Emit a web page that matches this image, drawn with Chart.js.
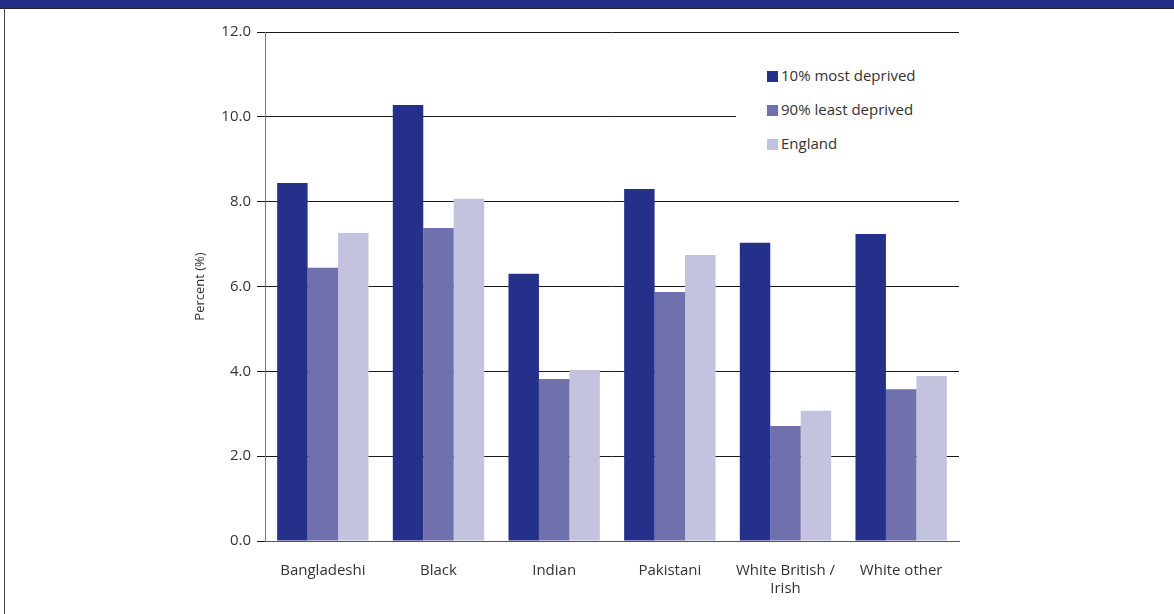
<!DOCTYPE html>
<html>
<head>
<meta charset="utf-8">
<script src="https://cdn.jsdelivr.net/npm/chart.js@4.4.1/dist/chart.umd.min.js"></script>
<style>
  html, body { margin: 0; padding: 0; background: #fff; }
  #frame { position: relative; width: 1174px; height: 614px; overflow: hidden; font-family: "Open Sans", sans-serif; }
  #topbar { position: absolute; left: 0; top: 0; width: 1174px; height: 8px; background: #232d88; border-bottom: 1px solid #222; }
  #leftline { position: absolute; left: 4px; top: 8px; width: 1px; height: 606px; background: #444; }
  #chartBox { position: absolute; left: 0; top: 0; width: 1174px; height: 614px; }
  #legend { position: absolute; left: 736px; top: 50px; width: 230px; height: 112px; background: #fff; }
  .item { position: absolute; left: 31px; font-size: 15px; color: #333; line-height: 18px; white-space: nowrap; }
  .item span { display: inline-block; width: 11px; height: 11px; margin-right: 3px; vertical-align: -1px; }
</style>
</head>
<body>
<div id="frame">
  <div id="chartBox"><canvas id="myChart"></canvas></div>
  <div id="topbar"></div>
  <div id="leftline"></div>
  <div id="legend"></div>
</div>
<script>
// categories and values
var groups = [['Bangladeshi'], ['Black'], ['Indian'], ['Pakistani'], ['White British /', 'Irish'], ['White other']];
var mostDeprived = [8.44, 10.28, 6.30, 8.30, 7.03, 7.24];
var leastDeprived = [6.44, 7.38, 3.82, 5.87, 2.71, 3.58];
var england = [7.26, 8.07, 4.03, 6.74, 3.07, 3.89];
var seriesNames = ['10% most deprived', '90% least deprived', 'England'];
var seriesColours = ['#24308a', '#7070ae', '#c3c3df'];
var yTicks = [0, 2, 4, 6, 8, 10, 12];

var ctx = document.getElementById('myChart').getContext('2d');
var chart = new Chart(ctx, {
  type: 'bar',
  data: {
    labels: groups,
    datasets: [
      { label: seriesNames[0], data: mostDeprived, backgroundColor: seriesColours[0] },
      { label: seriesNames[1], data: leastDeprived, backgroundColor: seriesColours[1] },
      { label: seriesNames[2], data: england, backgroundColor: seriesColours[2] }
    ]
  },
  options: {
    responsive: true,
    maintainAspectRatio: false,
    animation: false,
    datasets: { bar: { barPercentage: 1, categoryPercentage: 0.79 } },
    layout: { padding: { left: 180, right: 215, top: 32, bottom: 0 } },
    plugins: { legend: { display: false }, tooltip: { enabled: false } },
    scales: {
      x: {
        grid: { display: false },
        border: { color: '#555', width: 1 },
        ticks: {
          color: '#333', padding: 12, maxRotation: 0, autoSkip: false,
          font: { family: 'Open Sans', size: 15, lineHeight: 1.25 }
        },
        afterFit: function (s) { s.height = 73; }
      },
      y: {
        min: 0, max: 12,
        afterBuildTicks: function (s) { s.ticks = yTicks.map(function (v) { return { value: v }; }); },
        grid: { color: '#1a1a1a', lineWidth: 1, tickLength: 8 },
        border: { color: '#777', width: 1 },
        ticks: {
          color: '#333', padding: 6,
          font: { family: 'Open Sans', size: 15 },
          callback: function (v) { return Number(v).toFixed(1); }
        },
        title: {
          display: true, text: 'Percent (%)', color: '#333',
          font: { family: 'Open Sans', size: 13 }, padding: { top: 12, bottom: 0 }
        },
        afterFit: function (s) { s.width = 85; }
      }
    }
  }
});

// legend drawn as html on a white panel over the chart
var legendBox = document.getElementById('legend');
var rowTops = [16, 50, 84];
for (var i = 0; i < seriesNames.length; i++) {
  var div = document.createElement('div');
  div.className = 'item';
  div.style.top = rowTops[i] + 'px';
  div.innerHTML = '<span style="background:' + seriesColours[i] + '"></span>' + seriesNames[i];
  legendBox.appendChild(div);
}
</script>
</body>
</html>
